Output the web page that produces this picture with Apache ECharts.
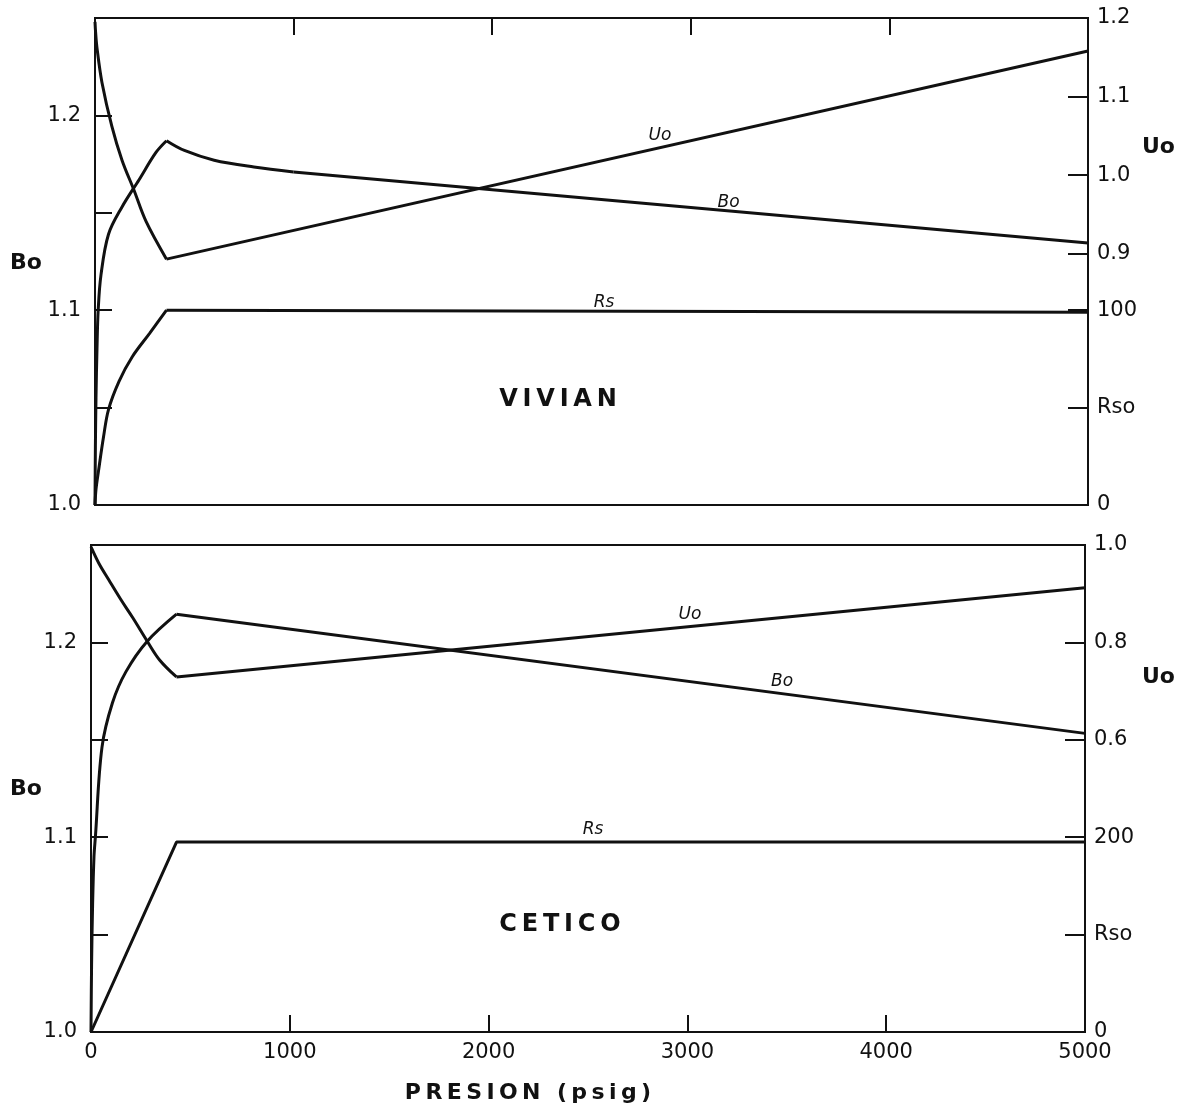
<!DOCTYPE html>
<html>
<head>
<meta charset="utf-8">
<script src="https://cdn.jsdelivr.net/npm/echarts@6/dist/echarts.min.js"></script>
<style>
html,body{margin:0;padding:0;background:#fff;}
#c{width:1181px;height:1118px;}
</style>
</head>
<body>
<div id="c"></div>
<script>
// ---------- DATA ----------
// VIVIAN (top panel) — curved parts near the bubble point, straight parts above it
var vivBoRiseP = [0, 2, 5, 10, 16, 30, 68, 136, 222, 307, 360];
var vivBoRise  = [1.000, 1.030, 1.055, 1.080, 1.100, 1.118, 1.139, 1.153, 1.167, 1.181, 1.187];
var vivBoFallP = [360, 450, 600, 800, 1000];
var vivBoFall  = [1.187, 1.182, 1.177, 1.1735, 1.171];
var vivBoLinP  = [1000, 5000];
var vivBoLin   = [1.171, 1.1345];
var vivUoFallP = [0, 3, 10, 35, 85, 136, 196, 257, 360];
var vivUoFall  = [1.195, 1.182, 1.162, 1.118, 1.062, 1.019, 0.981, 0.941, 0.893];
var vivUoRiseP = [360, 5000];
var vivUoRise  = [0.893, 1.158];
var vivRsRiseP = [0, 5, 17, 43, 68, 121, 187, 274, 360];
var vivRsRise  = [0, 8, 17, 35, 49, 63.5, 76, 88, 100];
var vivRsFlatP = [360, 5000];
var vivRsFlat  = [100, 99];
// CETICO (bottom panel)
var cetBoRiseP = [0, 3, 8, 15, 22, 55, 108, 176, 282, 430];
var cetBoRise  = [1.000, 1.035, 1.065, 1.090, 1.100, 1.146, 1.169, 1.185, 1.2005, 1.2145];
var cetBoFallP = [430, 5000];
var cetBoFall  = [1.2145, 1.1533];
var cetUoFallP = [0, 40, 90, 150, 211, 282, 345, 430];
var cetUoFall  = [0.996, 0.962, 0.928, 0.888, 0.850, 0.803, 0.764, 0.729];
var cetUoRiseP = [430, 5000];
var cetUoRise  = [0.729, 0.912];
var cetRsP = [0, 430, 5000];
var cetRs  = [0, 195, 195];
// tick labels
var xTicks = [0, 1000, 2000, 3000, 4000, 5000];
var xInnerTicks = [1000, 2000, 3000, 4000];
var boLabels = [1.0, 1.1, 1.2];
var boTicks = [1.05, 1.1, 1.15, 1.2];
var vivUoLabels = [0.9, 1.0, 1.1, 1.2];
var vivUoTicks = [0.9, 1.0, 1.1];
var vivRsoLabels = [0, 50, 100];
var vivRsoTicks = [50, 100];
var cetUoLabels = [0.6, 0.8, 1.0];
var cetUoTicks = [0.6, 0.8];
var cetRsoLabels = [0, 100, 200];
var cetRsoTicks = [100, 200];

function pairs(px, py){ return px.map(function(p,i){return [p, py[i]];}); }

var FONT = 'DejaVu Sans';
var INK = '#111';
var lblStyle = {color: INK, fontFamily: FONT, fontSize: 21};
var TS = '\u2009';
function spaced(s){ return s.split('').join(TS); }

function curve(name, xi, yi, px, py, smooth, tag){
  return {
    type: 'line', name: name, xAxisIndex: xi, yAxisIndex: yi,
    data: pairs(px, py), showSymbol: false, symbol: 'none',
    smooth: smooth ? 0.35 : false,
    lineStyle: {color: INK, width: 3}, z: 5,
    markPoint: tag ? {
      symbol: 'circle', symbolSize: 0, silent: true,
      label: {show: true, formatter: tag.text, color: INK, fontFamily: FONT, fontSize: 17, fontStyle: 'italic', position: 'inside'},
      data: [{coord: tag.coord}]
    } : undefined
  };
}

function yAx(grid, pos, min, max, labels, ticks, fmt, tickLen){
  return {
    type: 'value', gridIndex: grid, position: pos, min: min, max: max, offset: 0,
    axisLine: {show: true, onZero: false, lineStyle: {color: INK, width: 2}},
    axisTick: {show: true, inside: true, length: tickLen, lineStyle: {color: INK, width: 2}, customValues: ticks},
    axisLabel: Object.assign({show: true, margin: pos === 'left' ? 14 : 9, customValues: labels, formatter: fmt}, lblStyle),
    splitLine: {show: false}
  };
}

var chart = echarts.init(document.getElementById('c'), null, {renderer: 'canvas'});
var option = {
  animation: false,
  backgroundColor: '#fff',
  grid: [
    {left: 95, top: 18, width: 993, height: 487, show: true, borderColor: INK, borderWidth: 2, backgroundColor: 'transparent'},
    {left: 91, top: 545, width: 994, height: 487, show: true, borderColor: INK, borderWidth: 2, backgroundColor: 'transparent'}
  ],
  xAxis: [
    {type: 'value', gridIndex: 0, position: 'top', min: 0, max: 5000,
     axisLine: {show: true, onZero: false, lineStyle: {color: INK, width: 2}},
     axisTick: {show: true, inside: true, length: 17, lineStyle: {color: INK, width: 2}, customValues: xInnerTicks},
     axisLabel: {show: false}, splitLine: {show: false}},
    {type: 'value', gridIndex: 1, position: 'bottom', min: 0, max: 5000,
     axisLine: {show: true, onZero: false, lineStyle: {color: INK, width: 2}},
     axisTick: {show: true, inside: true, length: 17, lineStyle: {color: INK, width: 2}, customValues: xInnerTicks},
     axisLabel: Object.assign({show: true, margin: 10, customValues: xTicks, formatter: function(v){return String(v);}}, lblStyle),
     splitLine: {show: false}}
  ],
  yAxis: [
    yAx(0, 'left', 1.0, 1.25, boLabels, boTicks, function(v){return v.toFixed(1);}, 17),
    yAx(0, 'right', 0.58, 1.2, vivUoLabels, vivUoTicks, function(v){return v.toFixed(1);}, 20),
    yAx(0, 'right', 0, 250, vivRsoLabels, vivRsoTicks, function(v){return v === 50 ? 'Rso' : String(v);}, 20),
    yAx(1, 'left', 1.0, 1.25, boLabels, boTicks, function(v){return v.toFixed(1);}, 17),
    yAx(1, 'right', 0, 1.0, cetUoLabels, cetUoTicks, function(v){return v.toFixed(1);}, 20),
    yAx(1, 'right', 0, 500, cetRsoLabels, cetRsoTicks, function(v){return v === 100 ? 'Rso' : String(v);}, 20)
  ],
  series: [
    curve('Bo', 0, 0, vivBoRiseP, vivBoRise, true),
    curve('Bo', 0, 0, vivBoFallP, vivBoFall, true),
    curve('Bo', 0, 0, vivBoLinP, vivBoLin, false, {text: 'Bo', coord: [3190, 1.1555]}),
    curve('Uo', 0, 1, vivUoFallP, vivUoFall, true),
    curve('Uo', 0, 1, vivUoRiseP, vivUoRise, false, {text: 'Uo', coord: [2845, 1.05]}),
    curve('Rs', 0, 2, vivRsRiseP, vivRsRise, true),
    curve('Rs', 0, 2, vivRsFlatP, vivRsFlat, false, {text: 'Rs', coord: [2563, 104]}),
    curve('Bo', 1, 3, cetBoRiseP, cetBoRise, true),
    curve('Bo', 1, 3, cetBoFallP, cetBoFall, false, {text: 'Bo', coord: [3476, 1.18]}),
    curve('Uo', 1, 4, cetUoFallP, cetUoFall, true),
    curve('Uo', 1, 4, cetUoRiseP, cetUoRise, false, {text: 'Uo', coord: [3013, 0.858]}),
    curve('Rs', 1, 5, cetRsP, cetRs, false, {text: 'Rs', coord: [2525, 208]})
  ],
  graphic: [
    {type: 'text', left: 10, top: 252, style: {text: 'Bo', font: 'bold 22px "DejaVu Sans"', fill: INK}},
    {type: 'text', left: 10, top: 778, style: {text: 'Bo', font: 'bold 22px "DejaVu Sans"', fill: INK}},
    {type: 'text', left: 1142, top: 136, style: {text: 'Uo', font: 'bold 22px "DejaVu Sans"', fill: INK}},
    {type: 'text', left: 1142, top: 666, style: {text: 'Uo', font: 'bold 22px "DejaVu Sans"', fill: INK}},
    {type: 'text', x: 558, y: 400, style: {text: spaced('VIVIAN'), font: 'bold 24px "DejaVu Sans"', fill: INK, align: 'center', verticalAlign: 'middle'}},
    {type: 'text', x: 560, y: 925, style: {text: spaced('CETICO'), font: 'bold 24px "DejaVu Sans"', fill: INK, align: 'center', verticalAlign: 'middle'}},
    {type: 'text', x: 528, y: 1093, style: {text: spaced('PRESION (psig)'), font: 'bold 22px "DejaVu Sans"', fill: INK, align: 'center', verticalAlign: 'middle'}}
  ]
};
chart.setOption(option);
</script>
</body>
</html>
